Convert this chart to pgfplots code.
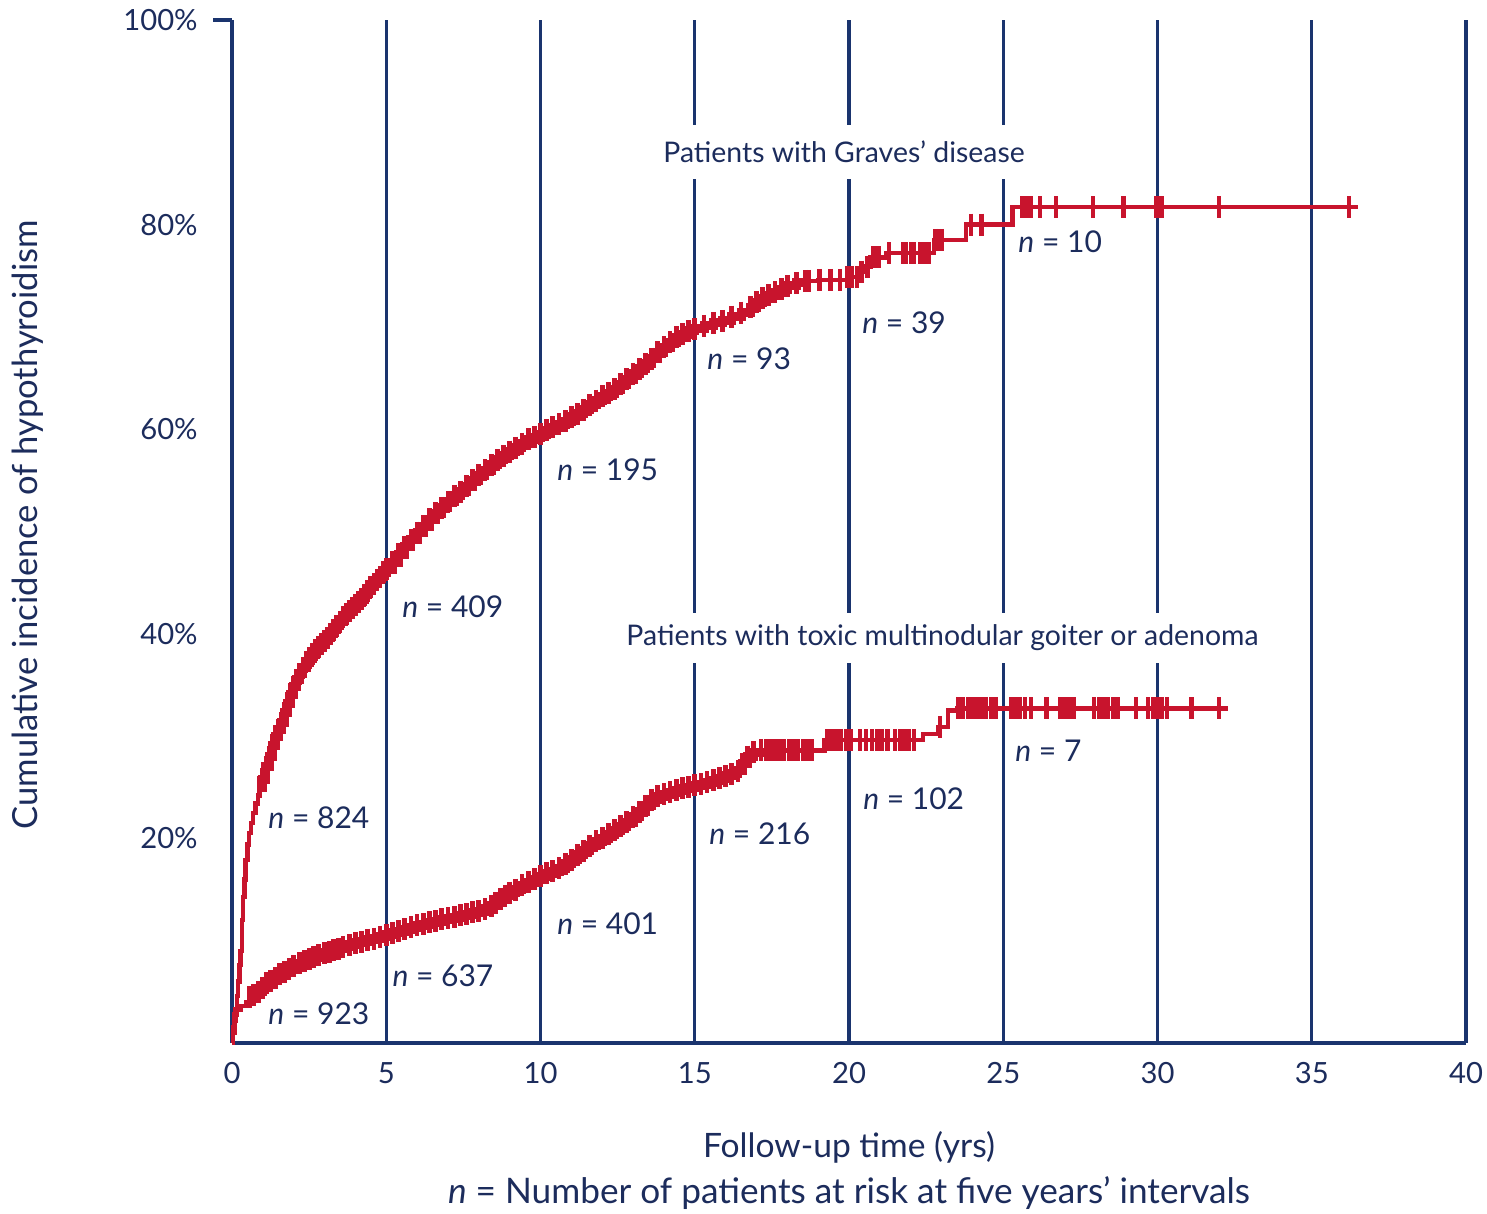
\documentclass[border=0pt]{standalone}
\usepackage{pgfplots}
\pgfplotsset{compat=1.18}
\usepackage{pgfplotstable}
\usepackage{fontspec}
\setmainfont{Lato}
\definecolor{navyline}{RGB}{26,52,110}
\definecolor{navytext}{RGB}{28,44,92}
\definecolor{kmred}{RGB}{200,20,45}
\newcommand\fs[1]{\fontsize{#1}{#1}\selectfont}

\pgfplotstableread{
x y
0 0
0.04 1.0
0.08 2.2
0.12 3.3
0.16 4.6
0.2 6.0
0.24 7.6
0.28 9.0
0.32 9.8
0.33 12.0
0.35 14.3
0.4 16.0
0.44 17.9
0.5 19.4
0.55 20.5
0.62 21.5
0.68 22.5
0.76 23.4
0.84 24.2
0.9 25.0
1.0 25.8
1.1 27.0
1.2 28.0
1.3 29.1
1.4 30.0
1.5 30.6
1.6 31.3
1.7 32.3
1.8 33.2
1.9 34.1
2.0 34.8
2.1 35.5
2.2 36.1
2.3 36.7
2.4 37.2
2.5 37.6
2.6 38.0
2.7 38.4
2.8 38.7
2.9 39.0
3.0 39.3
3.1 39.6
3.2 40.0
3.3 40.4
3.4 40.8
3.5 41.2
3.6 41.6
3.7 41.9
3.8 42.2
3.9 42.5
4.0 42.8
4.1 43.1
4.2 43.4
4.3 43.8
4.4 44.2
4.5 44.6
4.6 44.9
4.7 45.3
4.8 45.6
4.9 46.0
5.0 46.3
5.2 47.0
5.4 47.8
5.6 48.5
5.8 49.2
6.0 49.9
6.2 50.5
6.4 51.2
6.6 51.8
6.8 52.3
7.0 52.9
7.2 53.5
7.4 53.9
7.6 54.4
7.8 55.0
8.0 55.5
8.2 56.0
8.4 56.5
8.6 57.0
8.8 57.4
9.0 57.8
9.2 58.2
9.4 58.6
9.6 59.0
9.8 59.2
10.0 59.5
10.2 59.9
10.4 60.2
10.6 60.5
10.8 60.8
11.0 61.2
11.2 61.5
11.4 61.9
11.6 62.4
11.8 62.8
12.0 63.2
12.2 63.5
12.4 63.9
12.6 64.4
12.8 64.9
13.0 65.4
13.2 65.9
13.4 66.4
13.6 66.9
13.8 67.5
14.0 68.0
14.2 68.5
14.4 69.0
14.6 69.3
14.8 69.6
15.0 69.8
15.3 70.1
15.6 70.4
15.9 70.6
16.2 71.0
16.5 71.4
16.8 71.9
17.0 72.4
17.2 72.8
17.4 73.1
17.6 73.4
17.8 73.7
18.0 74.0
18.3 74.3
18.6 74.5
19.0 74.6
20.0 74.9
20.3 75.4
20.5 75.9
20.7 76.8
21.2 77.2
22.75 78.5
23.8 80.0
25.3 81.7
36.5 81.7
}\graves

\pgfplotstableread{
x y
18.7 74.5
19.05 74.6
19.4 74.6
19.7 74.6
19.95 74.9
20.1 74.9
20.25 74.9
20.4 75.4
20.6 75.9
20.8 76.8
20.95 76.8
21.3 77.2
21.75 77.2
21.85 77.2
22.0 77.2
22.1 77.2
22.3 77.2
22.45 77.2
22.6 77.2
22.8 78.5
22.9 78.5
23.0 78.5
23.95 80.0
24.3 80.0
25.6 81.7
25.75 81.7
25.9 81.7
26.2 81.7
26.7 81.7
27.9 81.7
28.9 81.7
29.95 81.7
30.05 81.7
30.15 81.7
32.0 81.7
36.2 81.7
}\gravescens

\pgfplotstableread{
x y
0 0
0.03 1.5
0.06 2.8
0.15 3.2
0.3 3.6
0.45 4.0
0.58 4.5
0.7 4.7
0.85 5.0
1.0 5.4
1.13 5.9
1.25 6.1
1.4 6.4
1.55 6.7
1.7 6.9
1.85 7.2
2.0 7.5
2.2 7.8
2.35 8.0
2.5 8.2
2.65 8.4
2.8 8.6
3.0 8.8
3.15 8.9
3.3 9.1
3.45 9.2
3.6 9.4
3.8 9.6
4.0 9.8
4.2 9.9
4.4 10.1
4.6 10.2
4.8 10.4
5.0 10.6
5.2 10.8
5.4 10.9
5.6 11.1
5.8 11.3
6.0 11.5
6.2 11.6
6.4 11.8
6.6 11.9
6.8 12.1
7.0 12.2
7.2 12.3
7.4 12.5
7.6 12.6
7.8 12.8
8.0 12.9
8.2 13.1
8.4 13.4
8.55 13.7
8.7 14.1
8.85 14.4
9.0 14.7
9.2 15.0
9.4 15.4
9.6 15.7
9.8 16.0
10.0 16.3
10.2 16.6
10.4 16.8
10.6 17.1
10.8 17.5
11.0 17.9
11.2 18.4
11.4 18.8
11.6 19.3
11.8 19.7
12.0 20.0
12.2 20.4
12.4 20.8
12.6 21.2
12.8 21.6
13.0 22.1
13.2 22.6
13.4 23.2
13.6 23.8
13.8 24.1
14.0 24.3
14.2 24.5
14.4 24.7
14.6 24.9
14.8 25.0
15.0 25.2
15.2 25.3
15.4 25.5
15.6 25.7
15.8 25.9
16.0 26.1
16.2 26.3
16.4 26.6
16.55 27.3
16.7 28.0
16.9 28.4
17.15 28.6
19.2 29.6
22.4 30.2
22.9 30.9
23.2 32.5
23.5 32.7
32.3 32.7
}\toxic

\pgfplotstableread{
x y
17.3 28.6
17.45 28.6
17.6 28.6
17.75 28.6
17.9 28.6
18.05 28.6
18.2 28.6
18.35 28.6
18.5 28.6
18.65 28.6
18.8 28.6
19.3 29.6
19.45 29.6
19.6 29.6
19.75 29.6
19.9 29.6
20.05 29.6
20.35 29.6
20.55 29.6
20.75 29.6
20.9 29.6
21.05 29.6
21.25 29.6
21.5 29.6
21.65 29.6
21.8 29.6
21.95 29.6
22.1 29.6
22.95 30.9
23.55 32.7
23.7 32.7
23.85 32.7
24.0 32.7
24.15 32.7
24.3 32.7
24.45 32.7
24.6 32.7
24.75 32.7
25.25 32.7
25.4 32.7
25.55 32.7
25.7 32.7
25.9 32.7
26.4 32.7
26.85 32.7
27.0 32.7
27.15 32.7
27.3 32.7
27.95 32.7
28.1 32.7
28.25 32.7
28.4 32.7
28.55 32.7
28.7 32.7
29.3 32.7
29.7 32.7
29.85 32.7
30.0 32.7
30.15 32.7
30.3 32.7
31.1 32.7
32.0 32.7
}\toxiccens

\begin{document}
\begin{tikzpicture}
\useasboundingbox (-116bp,-85.5bp) rectangle (627.5bp,521.5bp);
\begin{axis}[
  scale only axis, width=617bp, height=511.5bp,
  xmin=0, xmax=40, ymin=0, ymax=100,
  axis x line*=bottom, axis y line*=left,
  axis line style={navyline, line width=1.6bp},
  xtick={0,5,...,40}, xticklabels={0,5,10,15,20,25,30,35,40},
  ytick={20,40,60,80,100}, yticklabels={20\%,40\%,60\%,80\%,100\%},
  major tick length=0pt,
  xmajorgrids, grid style={navyline, line width=1.6bp},
  xticklabel style={font=\fs{14.6bp}, text=navytext, anchor=center, inner sep=0pt, yshift=-15bp},
  yticklabel style={font=\fs{14.6bp}, text=navytext, anchor=east, inner sep=0pt, xshift=-17bp},
  clip=false,
]
% Graves
\addplot[const plot, kmred, line width=2.2bp, no marks] table[x=x,y=y]{\graves};
\addplot[const plot, kmred, line width=4.5bp, no marks, restrict x to domain=0.9:18.6] table[x=x,y=y]{\graves};
\addplot[only marks, kmred, mark=|, mark size=5.5bp, mark options={line width=2.4bp}, restrict x to domain=0.9:18.6] table[x=x,y=y]{\graves};
\addplot[only marks, kmred, mark=|, mark size=5.5bp, mark options={line width=2.2bp}] table[x=x,y=y]{\gravescens};
% Toxic
\addplot[const plot, kmred, line width=2.2bp, no marks] table[x=x,y=y]{\toxic};
\addplot[const plot, kmred, line width=4.5bp, no marks, restrict x to domain=0.55:17.15] table[x=x,y=y]{\toxic};
\addplot[only marks, kmred, mark=|, mark size=5.5bp, mark options={line width=2.4bp}, restrict x to domain=0.55:17.15] table[x=x,y=y]{\toxic};
\addplot[only marks, kmred, mark=|, mark size=5.5bp, mark options={line width=2.2bp}] table[x=x,y=y]{\toxiccens};

\node[fill=white, inner xsep=3bp, minimum height=27bp, font=\fs{14.2bp}, text=navytext] at (axis cs:19.84,87.1) {Patients with Graves’ disease};
\node[fill=white, inner xsep=3bp, minimum height=25bp, font=\fs{14.2bp}, text=navytext] at (axis cs:23.03,39.6) {Patients with toxic multinodular goiter or adenoma};

\begin{scope}[every node/.style={anchor=west, inner sep=0pt, font=\fs{15bp}, text=navytext}]
\node at (axis cs:1.17,22.0) {\textit{n} = 824};
\node at (axis cs:1.17,2.9) {\textit{n} = 923};
\node at (axis cs:5.51,42.6) {\textit{n} = 409};
\node at (axis cs:5.19,6.6) {\textit{n} = 637};
\node at (axis cs:10.53,56.0) {\textit{n} = 195};
\node at (axis cs:10.53,11.7) {\textit{n} = 401};
\node at (axis cs:15.40,66.9) {\textit{n} = 93};
\node at (axis cs:15.46,20.5) {\textit{n} = 216};
\node at (axis cs:20.42,70.4) {\textit{n} = 39};
\node at (axis cs:20.45,23.9) {\textit{n} = 102};
\node at (axis cs:25.48,78.3) {\textit{n} = 10};
\node at (axis cs:25.38,28.6) {\textit{n} = 7};
\end{scope}
\end{axis}
\draw[navyline, line width=1.6bp] (0,511.5bp) -- (-9.5bp,511.5bp);
\node[rotate=90, font=\fs{17.3bp}, text=navytext] at (-102bp,259bp) {Cumulative incidence of hypothyroidism};
\node[font=\fs{16.8bp}, text=navytext] at (308.5bp,-52bp) {Follow-up time (yrs)};
\node[font=\fs{17.6bp}, text=navytext] at (308.5bp,-75bp) {\textit{n} = Number of patients at risk at five years’ intervals};
\end{tikzpicture}
\end{document}
